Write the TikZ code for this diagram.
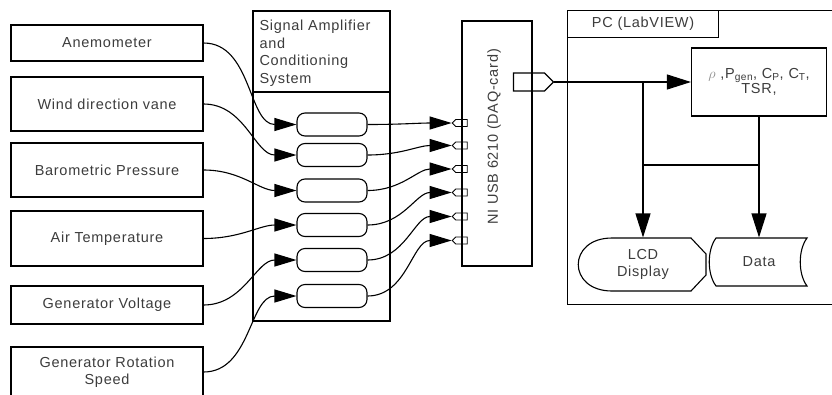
\documentclass[tikz,border=0pt]{standalone}
\usepackage{fontspec}
\setmainfont{Liberation Sans}[LetterSpace=5]
\usepackage{xcolor}
\definecolor{text_gray}{RGB}{60,60,60}
\definecolor{light_gray}{RGB}{140,140,140}
\usetikzlibrary{arrows.meta,shapes.symbols}

\begin{document}
\begin{tikzpicture}[x=1pt, y=-1pt, line width=1.1pt,
  every node/.style={text=text_gray, font=\fontsize{14.5}{17.5}\selectfont},
  sensor/.style={draw, minimum width=192pt, align=center, inner sep=0pt},
  chan/.style={draw, rounded corners=8pt, minimum width=70pt, minimum height=23pt},
  port/.style={draw, signal, signal to=west, minimum width=15pt, minimum height=7pt, inner sep=0pt, line width=0.9pt},
  wire/.style={-{Triangle[length=22pt, width=13pt]}},
  pcwire/.style={-{Triangle[length=24pt, width=15pt]}}]
\useasboundingbox (0,0) rectangle (832,394);

\node[sensor, minimum height=36pt] (anem) at (107,43) {Anemometer};
\node[sensor, minimum height=54pt] (vane) at (107,104) {Wind direction vane};
\node[sensor, minimum height=54pt] (baro) at (107,170) {Barometric Pressure};
\node[sensor, minimum height=55pt] (temp) at (107,238.5) {Air Temperature};
\node[sensor, minimum height=38pt] (volt) at (107,305) {Generator Voltage};
\node[sensor, minimum height=50pt] (rpm) at (107,372) {Generator Rotation\\Speed};

\node[draw, minimum width=137pt, minimum height=310pt] (amp) at (321.5,166) {};
\draw (253,92) -- (390,92);
\node[anchor=north west, align=left, inner sep=0pt] (amptitle) at (259,19.5) {Signal Amplifier\\and\\Conditioning\\System};

\foreach \y [count=\i] in {124.5,155,190.5,225,260,296}
  \node[chan] (c\i) at (332,\y) {};
\foreach \y [count=\i] in {123,145.5,169,192.5,216.5,240.5}
  \node[port] (p\i) at (461.5,\y) {};

\foreach \s [count=\i] in {anem,vane,baro,temp,volt,rpm}
  \draw[wire] (\s.east) to[out=0, in=180] (c\i.west);
\foreach \i in {1,...,6}
  \draw[wire] (c\i.east) to[out=0, in=180] (p\i.west);

\node[draw, minimum width=70pt, minimum height=245pt] (ni) at (497,143.5) {};
\node[rotate=90] (nitext) at (494,137) {NI USB 6210 (DAQ-card)};
\node[draw, signal, signal to=east, minimum width=40pt, minimum height=18pt, inner sep=0pt] (daqout) at (529,82) {};

\node[draw, minimum width=280pt, minimum height=294pt, anchor=north west] (pc) at (567,10) {};
\node[draw, minimum width=151pt, minimum height=27pt, anchor=north west] (pctab) at (567,10) {PC (LabVIEW)};

\node[draw, minimum width=135pt, minimum height=68pt, align=center, font=\fontsize{14.5}{15}\selectfont] (res) at (759,82)
  {{\color{light_gray}$\rho$} ,P\textsubscript{gen}, C\textsubscript{P}, C\textsubscript{T},\\TSR,};

\node[minimum width=127pt, minimum height=53pt, align=center] (lcd) at (643,264.5) {LCD\\Display};
\draw (612,238) -- (691,238) -- (706,254) -- (706,275) -- (691,291) -- (612,291)
  .. controls (567,291) and (567,238) .. (612,238) -- cycle;
\node[minimum width=96pt, minimum height=48pt] (data) at (759,262) {Data};
\draw (716,238) -- (807,238) .. controls (798,250) and (798,274) .. (807,286)
  -- (716,286) .. controls (707,274) and (707,250) .. (716,238) -- cycle;

\coordinate (split) at (643,82);
\coordinate (bend) at (643,165);
\coordinate (merge) at (759,165);
\draw[pcwire] (daqout.east) -- (res.west);
\draw[pcwire] (split) -- (lcd.north);
\draw (bend) -- (merge);
\draw[pcwire] (res.south) -- (data.north);

\end{tikzpicture}
\end{document}
